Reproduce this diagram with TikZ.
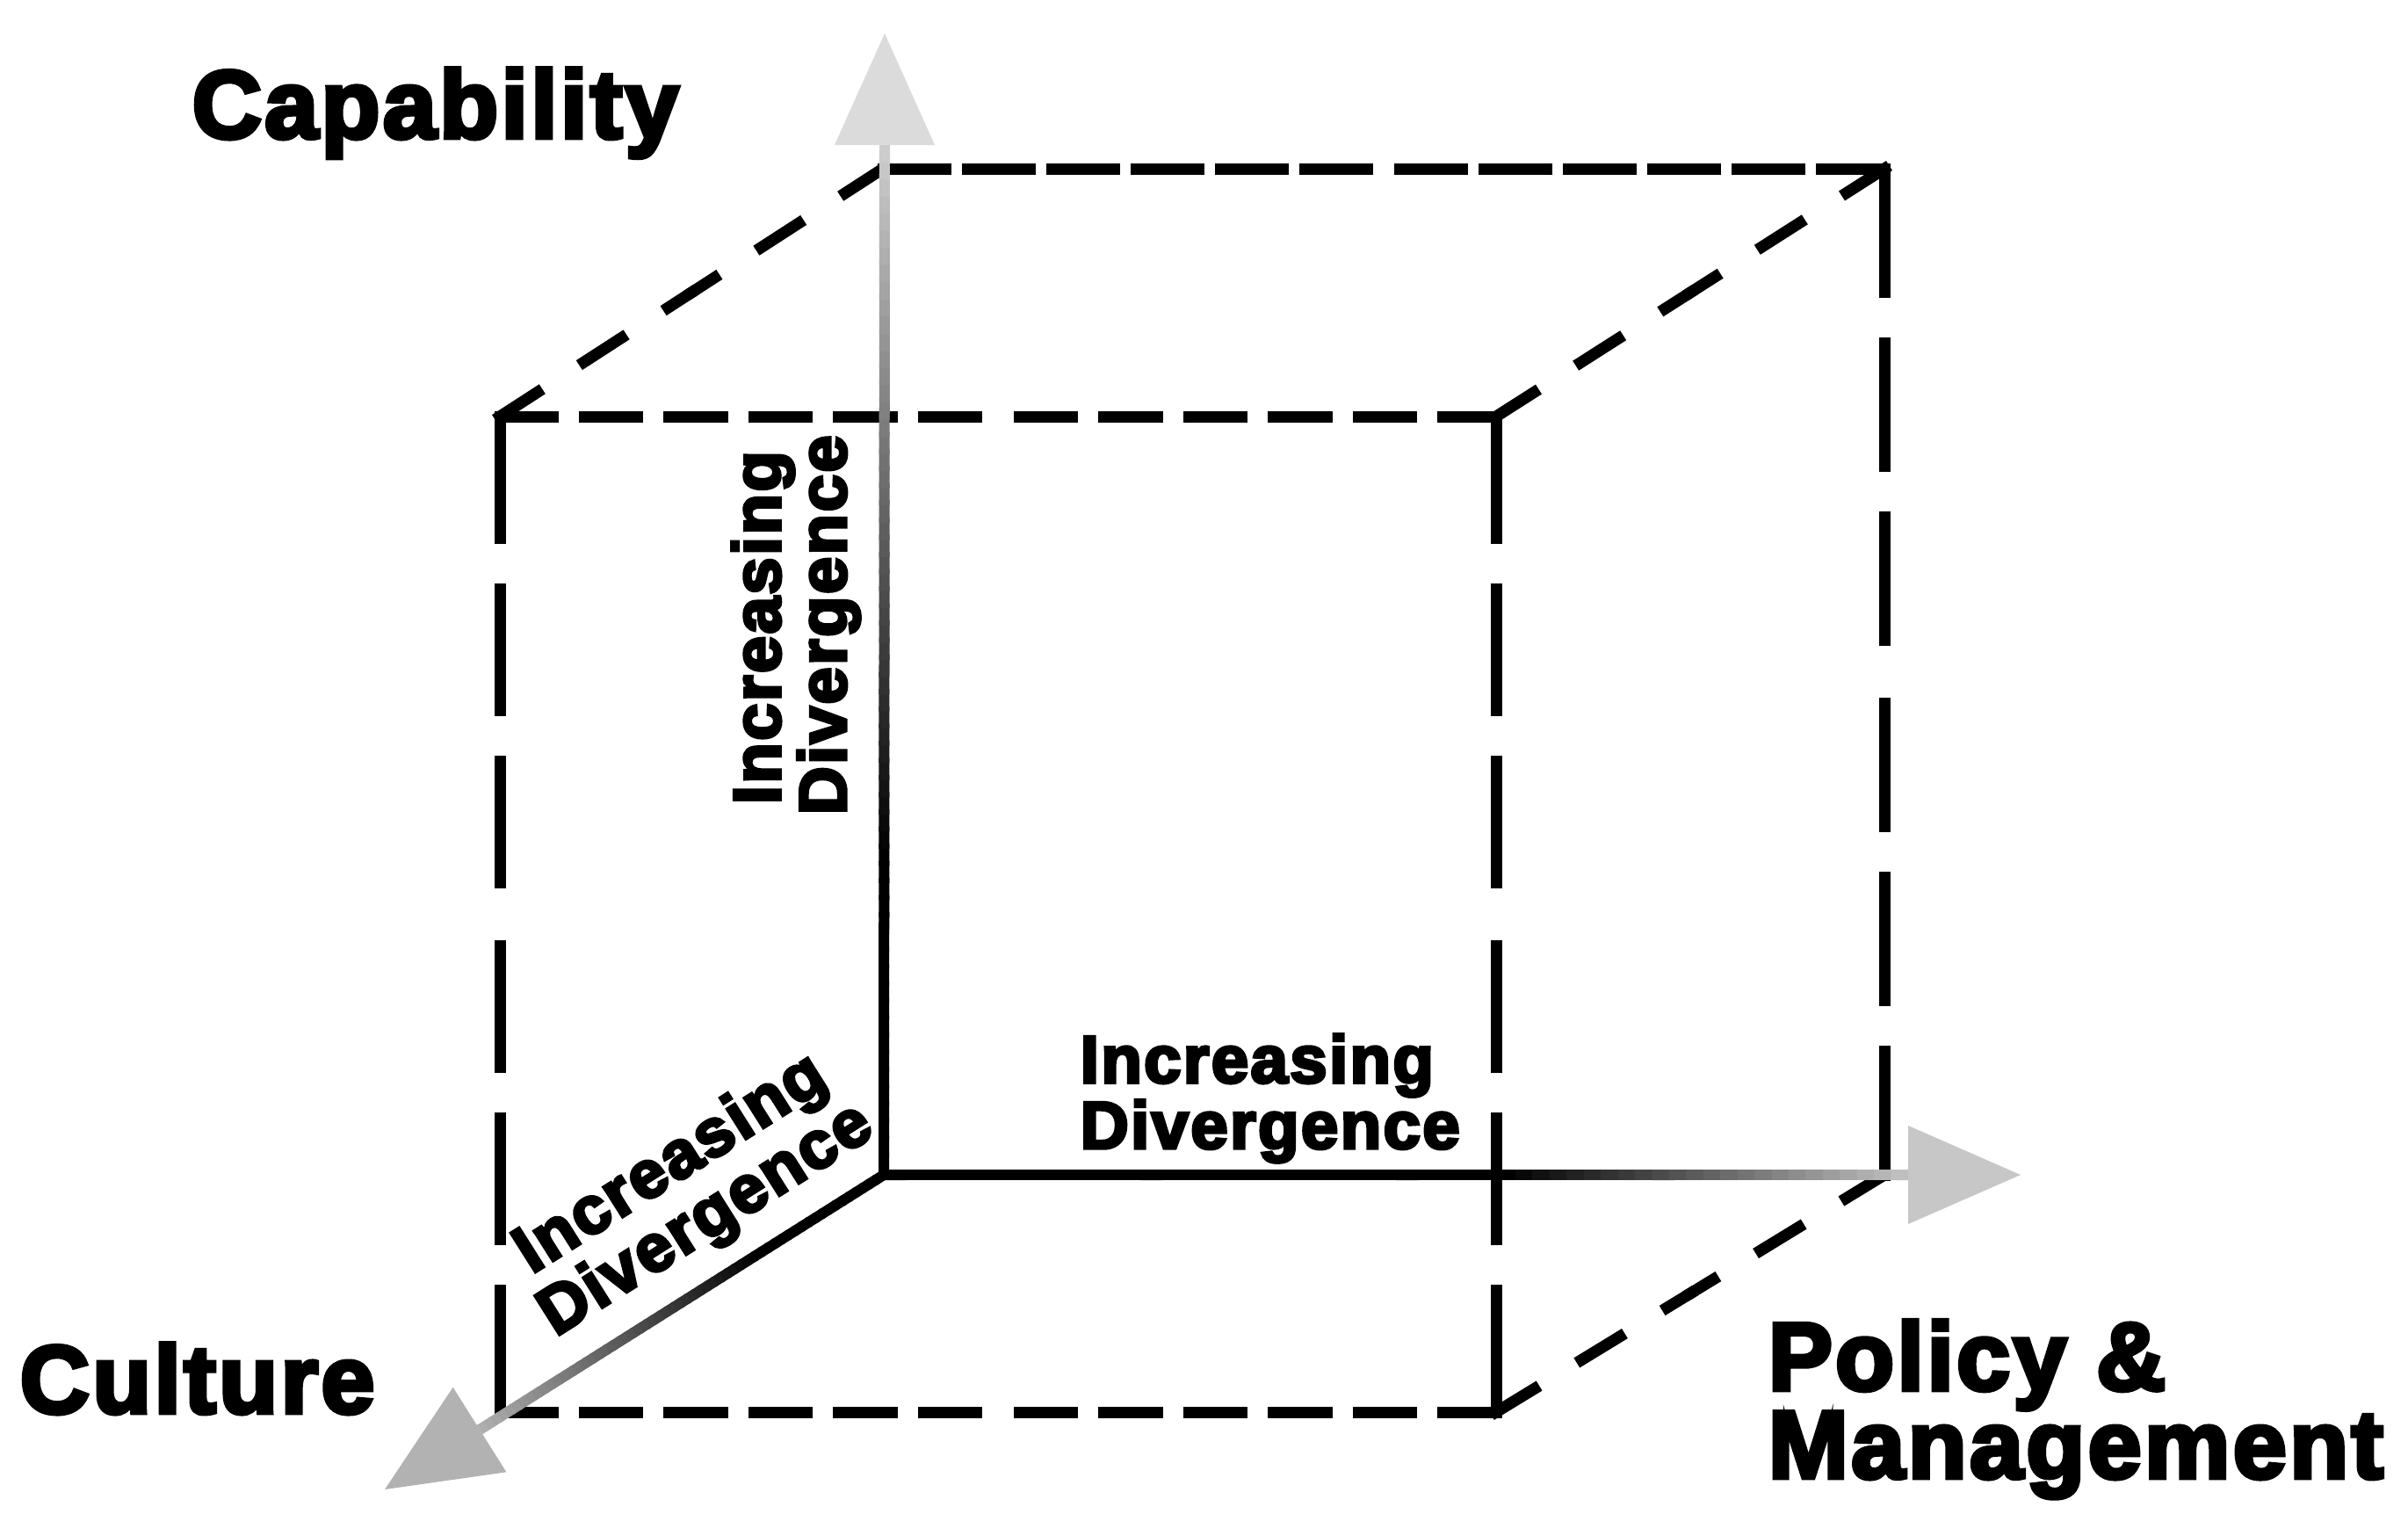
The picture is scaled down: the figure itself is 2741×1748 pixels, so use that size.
\documentclass[tikz,border=0pt]{standalone}
\usepackage{fontspec}
\newfontfamily\heavyfont{Liberation Sans}[UprightFont={* Bold}, FakeBold=4.5, LetterSpace=3]
\usetikzlibrary{calc}
\newcommand\gradaxis[4]{%
  \foreach \i in {0,...,59}{%
    \pgfmathsetmacro\ta{\i/60}%
    \pgfmathsetmacro\tb{min(1,(\i+1.3)/60)}%
    \pgfmathsetmacro\kk{min(100,100-(\ta-#3)/(1-#3)*(100-#4))}%
    \draw[axisline, draw=black!\kk] ($(#1)!\ta!(#2)$) -- ($(#1)!\tb!(#2)$);
  }%
}
\begin{document}
\begin{tikzpicture}[x=0.01cm, y=-0.01cm,
  edge/.style={line width=0.13cm, black, line cap=rect},
  dFront/.style={edge, dash pattern=on 0.604cm off 0.36cm},
  dBack/.style={edge, dash pattern=on 0.71cm off 0.25cm},
  dVert/.style={edge, dash pattern=on 1.38cm off 0.58cm},
  dVertB/.style={edge, dash pattern=on 1.40cm off 0.58cm},
  dDiag/.style={edge, dash pattern=on 0.51cm off 0.63cm},
  axisline/.style={line width=0.12cm, line cap=butt},
  bigtext/.style={font=\heavyfont\fontsize{31.2}{28.5}\selectfont, inner sep=0pt, text=black},
  smalltext/.style={font=\heavyfont\fontsize{21.7}{21.3}\selectfont, inner sep=0pt, text=black},
]
\useasboundingbox (0,0) rectangle (2741,1748);
% cube corners
\coordinate (F1) at (569,474);
\coordinate (F2) at (1703,474);
\coordinate (F3) at (1703,1607);
\coordinate (F4) at (569,1607);
\coordinate (B1) at (1005,192);
\coordinate (B2) at (2145,192);
\coordinate (B3) at (2145,1337);
\coordinate (O) at (1006,1337);
% axis ends
\coordinate (Ybase) at (1007,165);
\coordinate (Ytip) at (1007,38);
\coordinate (Xbase) at (2172,1337);
\coordinate (Xtip) at (2300,1337);
\coordinate (Zbase) at (546,1627);
\coordinate (Ztip) at (438,1695);

% dashed cube edges (drawn from both corners to the middle)
\foreach \a/\b/\s in {F1/F2/dFront, F4/F3/dFront, B1/B2/dBack,
                      F1/F4/dVert, F2/F3/dVert, B2/B3/dVertB,
                      F1/B1/dDiag, F2/B2/dDiag, F3/B3/dDiag}{
  \draw[\s] (\a) -- ($(\a)!0.5!(\b)$);
  \draw[\s] (\b) -- ($(\b)!0.5!(\a)$);
}

% axes with fading gradient
\gradaxis{O}{Ybase}{0.3}{18}
\gradaxis{O}{Xbase}{0.6}{22}
\gradaxis{O}{Zbase}{0.3}{30}

% arrowheads
\fill[black!14] (Ytip) -- ($(Ybase)!0.57cm!90:(Ytip)$) -- ($(Ybase)!0.57cm!-90:(Ytip)$) -- cycle;
\fill[black!22] (Xtip) -- ($(Xbase)!0.56cm!90:(Xtip)$) -- ($(Xbase)!0.56cm!-90:(Xtip)$) -- cycle;
\fill[black!30] (Ztip) -- ($(Zbase)!0.57cm!90:(Ztip)$) -- ($(Zbase)!0.57cm!-90:(Ztip)$) -- cycle;

% labels (base anchor = baseline of the last line)
\node[bigtext, anchor=base west] (cap) at (218,157) {Capability};
\node[bigtext, anchor=base west] (cul) at (22,1608) {Culture};
\node[bigtext, anchor=base west, align=left] (pol) at (2012,1682) {Policy \&\\Management};
\node[smalltext, anchor=base west, align=left] (lx) at (1229,1307) {Increasing\\Divergence};
\node[smalltext, anchor=base west, align=left, rotate=90] (ly) at (963,928) {\hspace*{0.12cm}Increasing\\Divergence};
\node[smalltext, anchor=base west, align=left, rotate=32.3] (lz) at (632,1522) {\hspace*{0.15cm}Increasing\\Divergence};
\end{tikzpicture}
\end{document}
